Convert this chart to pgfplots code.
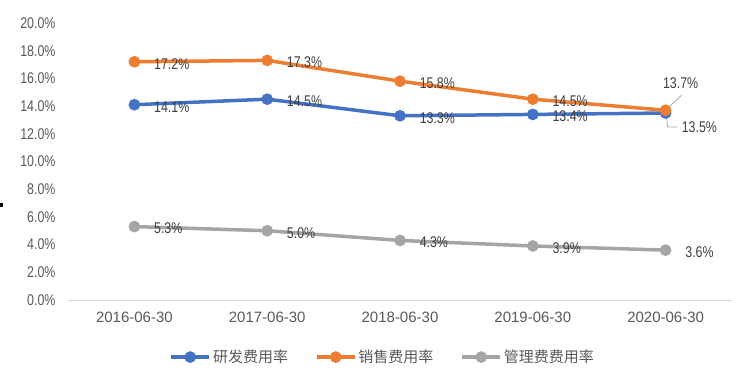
\documentclass[border=0pt]{standalone}
\usepackage{pgfplots}
\pgfplotsset{compat=1.18}
\usepackage{fontspec}
\setmainfont{Liberation Sans}
\newfontfamily\narrowf[FakeStretch=0.8]{Liberation Sans}
\newfontfamily\cjk{Noto Sans CJK SC}
\definecolor{cblue}{HTML}{4472C4}
\definecolor{corange}{HTML}{ED7D31}
\definecolor{cgray}{HTML}{A5A5A5}
\definecolor{ticktxt}{HTML}{595959}
\definecolor{labtxt}{HTML}{404040}
\definecolor{axisline}{HTML}{D9D9D9}
\begin{document}
\begin{tikzpicture}[x=1bp,y=1bp]
\useasboundingbox (0,0) rectangle (740,388);
\fill[black] (0,181) rectangle (3,185);
\begin{axis}[
  at={(68bp,88bp)}, anchor=south west,
  scale only axis, width=664bp, height=277bp,
  xmin=-0.5, xmax=4.5, ymin=0, ymax=20,
  axis line style={draw=none},
  major tick length=0pt,
  xtick={0,1,2,3,4},
  xticklabels={2016-06-30,2017-06-30,2018-06-30,2019-06-30,2020-06-30},
  ytick={0,2,...,20},
  yticklabel={\pgfmathprintnumber[fixed,fixed zerofill,precision=1]{\tick}\%},
  /pgf/number format/assume math mode=true,
  yticklabel style={font=\fontsize{15.5bp}{17bp}\selectfont\narrowf, text=ticktxt, xshift=-9bp},
  xticklabel style={font=\fontsize{15bp}{17bp}\selectfont, text=ticktxt, yshift=-9bp},
  clip=false,
  legend columns=3,
  legend style={at={(0.474,-0.206)}, anchor=center, draw=none, fill=none,
    font=\fontsize{15bp}{18bp}\selectfont\cjk, text=ticktxt,
    inner sep=0pt,
    /tikz/every even column/.append style={column sep=25bp}},
  legend cell align=left,
  legend image code/.code={\draw[mark repeat=2,mark phase=2,#1] plot coordinates {(0bp,0bp) (19bp,0bp) (38bp,0bp)};},
  point meta=explicit symbolic,
  nodes near coords,
  every node near coord/.append style={anchor=west, xshift=18bp, yshift=-2bp, inner sep=0pt,
    font=\fontsize{15.5bp}{17bp}\selectfont\narrowf, text=labtxt},
]
\draw[axisline, line width=1bp] (axis cs:-0.5,0) -- (axis cs:4.5,0);
\addplot[cblue, line width=3.5bp, mark=*, mark size=4bp, mark options={solid}] coordinates {
  (0,14.1) [14.1\%] (1,14.5) [14.5\%] (2,13.3) [13.3\%] (3,13.4) [13.4\%] (4,13.5) []
};
\addlegendentry{研发费用率}
\addplot[corange, line width=3.5bp, mark=*, mark size=4bp, mark options={solid}] coordinates {
  (0,17.2) [17.2\%] (1,17.3) [17.3\%] (2,15.8) [15.8\%] (3,14.5) [14.5\%] (4,13.7) []
};
\addlegendentry{销售费用率}
\addplot[cgray, line width=3.5bp, mark=*, mark size=4bp, mark options={solid}] coordinates {
  (0,5.3) [5.3\%] (1,5.0) [5.0\%] (2,4.3) [4.3\%] (3,3.9) [3.9\%] (4,3.6) [3.6\%]
};
\addlegendentry{管理费费用率}
\draw[cgray, line width=0.75bp] ([xshift=3bp,yshift=3bp]axis cs:4,13.7) -- ([xshift=16bp,yshift=15bp]axis cs:4,13.7);
\node[anchor=center, inner sep=0pt, font=\fontsize{15.5bp}{17bp}\selectfont\narrowf, text=labtxt] at ([xshift=15bp,yshift=27bp]axis cs:4,13.7) {13.7\%};
\draw[cgray, line width=0.75bp] ([xshift=1bp,yshift=-4bp]axis cs:4,13.5) -- ([xshift=2bp,yshift=-14bp]axis cs:4,13.5) -- ([xshift=12bp,yshift=-14bp]axis cs:4,13.5);
\node[anchor=west, inner sep=0pt, font=\fontsize{15.5bp}{17bp}\selectfont\narrowf, text=labtxt] at ([xshift=16bp,yshift=-14bp]axis cs:4,13.5) {13.5\%};
\end{axis}
\end{tikzpicture}
\end{document}
